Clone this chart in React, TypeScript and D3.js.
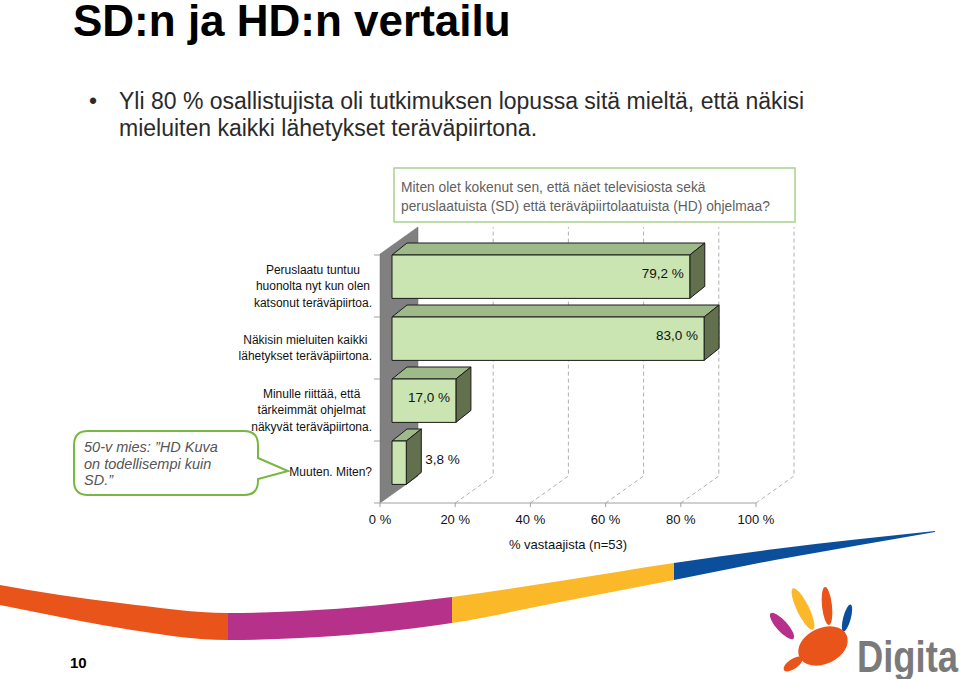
import React from "react";
import * as d3 from "d3";

const categories = [
  ["Peruslaatu tuntuu", "huonolta nyt kun olen", "katsonut teräväpiirtoa."],
  ["Näkisin mieluiten kaikki", "lähetykset teräväpiirtona."],
  ["Minulle riittää, että", "tärkeimmät ohjelmat", "näkyvät teräväpiirtona."],
  ["Muuten. Miten?"],
];
const values = [79.2, 83.0, 17.0, 3.8];
const xTicks = [0, 20, 40, 60, 80, 100];
const axisTitle = "% vastaajista (n=53)";
const title = "SD:n ja HD:n vertailu";
const bulletLines = [
  "Yli 80 % osallistujista oli tutkimuksen lopussa sitä mieltä, että näkisi",
  "mieluiten kaikki lähetykset teräväpiirtona.",
];
const questionLines = [
  "Miten olet kokenut sen, että näet televisiosta sekä",
  "peruslaatuista (SD) että teräväpiirtolaatuista (HD) ohjelmaa?",
];
const calloutLines = ["50-v mies: \u201DHD Kuva", "on todellisempi kuin", "SD.\u201D"];
const pageNumber = "10";

const FONT = "'Liberation Sans', Arial, sans-serif";

function measure(text: string, font: string): number {
  if (typeof document === "undefined") return text.length * 6;
  const c = document.createElement("canvas");
  const ctx = c.getContext("2d");
  if (!ctx) return text.length * 6;
  ctx.font = font;
  return ctx.measureText(text).width;
}

export default function App() {
  const x = d3.scaleLinear().domain([0, 100]).range([380, 756]);
  const y = d3
    .scaleBand<number>()
    .domain(categories.map((_, i) => i))
    .range([255, 503])
    .paddingInner(0)
    .paddingOuter(0);
  const DX = 38;
  const DY = -27;
  const floorY = 503;
  const topFront = 254;
  const barOff = 12;
  const bdx = 15;
  const bdy = -12;
  const barH = y.bandwidth() * 0.7;
  const fmt = (v: number) => d3.format(".1f")(v).replace(".", ",") + " %";

  const swooshPts: [number, number, number][] = [
    [0, 585, 605],
    [60, 595, 617],
    [120, 603, 628],
    [228, 613, 640],
    [300, 611, 638],
    [452, 597, 623],
    [560, 581, 602],
    [674, 563, 580],
    [775, 549, 560],
    [860, 539, 545],
    [935, 531, 532],
  ];
  const area = d3
    .area<[number, number, number]>()
    .x((d) => d[0])
    .y0((d) => d[1])
    .y1((d) => d[2])
    .curve(d3.curveMonotoneX);
  const swooshSegs = [
    { x0: 0, x1: 228, color: "#e8541a" },
    { x0: 228, x1: 452, color: "#b5318a" },
    { x0: 452, x1: 674, color: "#fbb829" },
    { x0: 674, x1: 960, color: "#0b4f9c" },
  ];

  const catSize = 12;
  const catFont = `${catSize}px ${FONT}`;
  const labelRight = 372;

  return (
    <svg
      width={960}
      height={679}
      style={{ position: "absolute", left: 0, top: 0, display: "block", background: "#fff" }}
      fontFamily={FONT}
    >
      <defs>
        {swooshSegs.map((s, i) => (
          <clipPath id={`sw${i}`} key={i}>
            <rect x={s.x0} y={500} width={s.x1 - s.x0} height={179} />
          </clipPath>
        ))}
      </defs>
      {/* Title */}
      <text x={73} y={36} fontSize={44} fontWeight="bold" fill="#000">
        {title}
      </text>
      {/* Bullet */}
      <text x={89} y={109} fontSize={23} fill="#2a2a2a">•</text>
      {bulletLines.map((l, i) => (
        <text key={i} x={119} y={109 + i * 27} fontSize={23} fill="#2a2a2a">
          {l}
        </text>
      ))}
      {/* Question box */}
      <rect x={394} y={168} width={401} height={54} fill="#fff" stroke="#a9d18e" strokeWidth={1.5} />
      {questionLines.map((l, i) => (
        <text key={i} x={401} y={192 + i * 19} fontSize={13.8} fill="#5f5f5f">
          {l}
        </text>
      ))}

      {/* Gridlines (back plane + floor) */}
      {xTicks.slice(1).map((t) => (
        <path
          key={t}
          d={`M${x(t)},${floorY} L${x(t) + DX},${floorY + DY} L${x(t) + DX},${topFront + DY}`}
          fill="none"
          stroke="#b0b0b0"
          strokeWidth={1}
          strokeDasharray="4,3"
        />
      ))}
      {/* Side wall */}
      <path
        d={`M${x(0)},${topFront} L${x(0) + DX},${topFront + DY} L${x(0) + DX},${floorY + DY} L${x(0)},${floorY} Z`}
        fill="#808080"
        stroke="#6e6e6e"
        strokeWidth={0.5}
      />
      {/* X axis line */}
      <line x1={x(0)} x2={x(100)} y1={floorY} y2={floorY} stroke="#a0a0a0" strokeWidth={1} />
      {xTicks.map((t) => (
        <g key={t}>
          <line x1={x(t)} x2={x(t)} y1={floorY} y2={floorY + 4} stroke="#a0a0a0" />
          <text x={x(t)} y={524} fontSize={13} textAnchor="middle" fill="#111">
            {`${t} %`}
          </text>
        </g>
      ))}
      <text x={568} y={549} fontSize={13} textAnchor="middle" fill="#111">
        {axisTitle}
      </text>
      {/* Category ticks */}
      {[...categories.map((_, i) => y(i) as number), 503].map((yy, i) => (
        <line key={i} x1={374} x2={380} y1={yy} y2={yy} stroke="#a0a0a0" />
      ))}
      {/* Bars */}
      {values.map((v, i) => {
        const x0 = x(0) + barOff;
        const x1 = x0 + (x(v) - x(0));
        const y0 = y(i) as number;
        const y1 = y0 + barH;
        const inside = v > 10;
        const cy = (y0 + y1) / 2 - 3;
        return (
          <g key={i} stroke="#1a1a1a" strokeWidth={1} strokeLinejoin="round">
            <path d={`M${x0},${y0} L${x0 + bdx},${y0 + bdy} L${x1 + bdx},${y0 + bdy} L${x1},${y0} Z`} fill="#9fba89" />
            <path d={`M${x1},${y0} L${x1 + bdx},${y0 + bdy} L${x1 + bdx},${y1 + bdy} L${x1},${y1} Z`} fill="#62704e" />
            <rect x={x0} y={y0} width={x1 - x0} height={barH} fill="#cae5b2" />
            <text
              x={inside ? x1 - 6 : x1 + bdx + 4}
              y={cy}
              dy="0.35em"
              fontSize={13.5}
              textAnchor={inside ? "end" : "start"}
              fill="#111"
              stroke="none"
            >
              {fmt(v)}
            </text>
          </g>
        );
      })}
      {/* Category labels */}
      {categories.map((lines, i) => {
        const maxW = Math.max(...lines.map((l) => measure(l, catFont)));
        const cx = labelRight - maxW / 2;
        const c = (y(i) as number) + y.bandwidth() / 2;
        const lh = 16.5;
        const start = c - ((lines.length - 1) * lh) / 2;
        return (
          <g key={i}>
            {lines.map((l, j) => (
              <text key={j} x={cx} y={start + j * lh} dy="0.35em" fontSize={catSize} textAnchor="middle" fill="#111">
                {l}
              </text>
            ))}
          </g>
        );
      })}
      {/* Callout */}
      <path
        d="M88,431 H244 Q258,431 258,445 V458 L288,471 L258,479 V481 Q258,495 244,495 H88 Q74,495 74,481 V445 Q74,431 88,431 Z"
        fill="#fff"
        stroke="#77b843"
        strokeWidth={2}
      />
      {calloutLines.map((l, i) => (
        <text key={i} x={84} y={452 + i * 16.5} fontSize={14.5} fontStyle="italic" fill="#555">
          {l}
        </text>
      ))}

      {/* Swoosh */}
      {swooshSegs.map((s, i) => (
        <path key={i} d={area(swooshPts) || ""} fill={s.color} clipPath={`url(#sw${i})`} />
      ))}
      {/* Page number */}
      <text x={70} y={668} fontSize={15} fontWeight="bold" fill="#000">
        {pageNumber}
      </text>
      {/* Logo */}
      <g>
        <ellipse cx={782} cy={626} rx={17} ry={5.5} transform="rotate(48 782 626)" fill="#b5318a" />
        <ellipse cx={803} cy={609} rx={23} ry={6} transform="rotate(64 803 609)" fill="#fbb829" />
        <ellipse cx={827} cy={606} rx={19} ry={5} transform="rotate(84 827 606)" fill="#e8541a" />
        <ellipse cx={847} cy={618} rx={14} ry={3.8} transform="rotate(105 847 618)" fill="#0b4f9c" />
        <ellipse cx={823} cy={646} rx={26} ry={18} transform="rotate(-25 823 646)" fill="#e8541a" />
        <ellipse cx={793} cy={664} rx={11} ry={5} transform="rotate(-35 793 664)" fill="#e8541a" />
        <text x={857} y={672} fontSize={44} fontWeight="bold" fill="#7a7a7a" textLength={101} lengthAdjust="spacingAndGlyphs">
          Digita
        </text>
      </g>
    </svg>
  );
}
